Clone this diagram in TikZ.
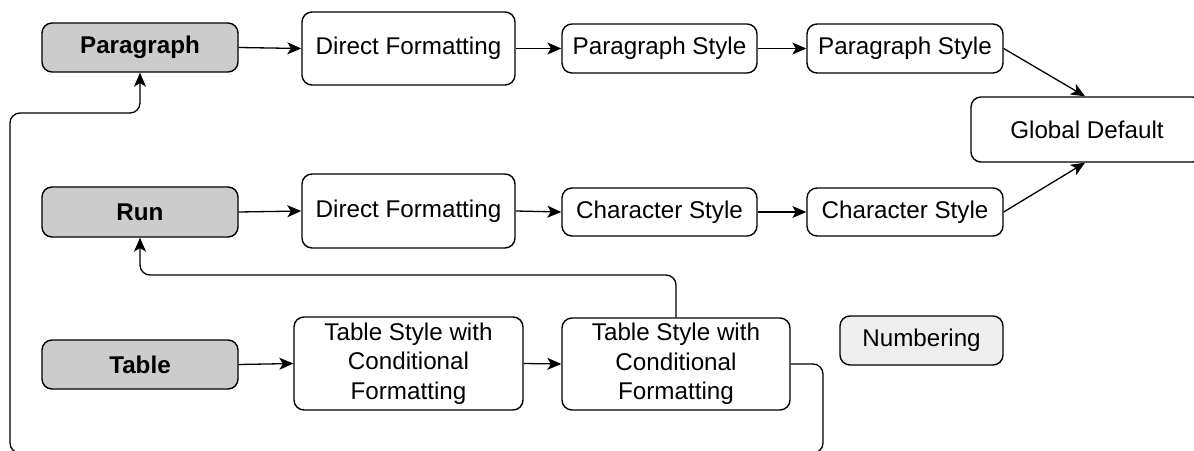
\documentclass[tikz,border=0pt]{standalone}
\usepackage{fontspec}
\setmainfont{Liberation Sans}
\usetikzlibrary{arrows.meta}
\definecolor{boxgray}{HTML}{CCCCCC}
\definecolor{lightgray2}{HTML}{EEEEEE}
\tikzset{
  box/.style={draw=black, line width=0.7pt, rounded corners=5pt, fill=white,
    align=center, inner sep=0pt, font=\fontsize{12.1}{14.8}\selectfont},
  entry/.style={box, fill=boxgray, font=\fontsize{12.1}{14.8}\selectfont\bfseries},
  numbox/.style={box, fill=lightgray2},
  arr/.style={line width=0.65pt, -{Stealth[length=7pt,width=6pt,inset=1.8pt]}},
  wire/.style={line width=0.65pt, rounded corners=5pt}
}
\begin{document}
\begin{tikzpicture}[x=0.5pt,y=-0.5pt]
\useasboundingbox (0,0) rectangle (1194,450);
% row 1
\node[entry, minimum width=98pt, minimum height=24.5pt] (par) at (140,47.5) {Paragraph};
\node[box, minimum width=106.5pt, minimum height=36.5pt] (df1) at (408.5,48.5) {Direct Formatting};
\node[box, minimum width=97.5pt, minimum height=24.5pt] (ps1) at (659.5,48.5) {Paragraph Style};
\node[box, minimum width=98pt, minimum height=24.5pt] (ps2) at (905,48.5) {Paragraph Style};
\node[box, minimum width=116pt, minimum height=32.5pt] (gd) at (1087,129.5) {Global Default};
% row 2
\node[entry, minimum width=98pt, minimum height=25pt] (run) at (140,212) {Run};
\node[box, minimum width=106.5pt, minimum height=37pt] (df2) at (408.5,211) {Direct Formatting};
\node[box, minimum width=97.5pt, minimum height=24pt] (cs1) at (659.5,212) {Character Style};
\node[box, minimum width=98pt, minimum height=24pt] (cs2) at (905,212) {Character Style};
% row 3
\node[entry, minimum width=98pt, minimum height=24.5pt] (tab) at (140,364.5) {Table};
\node[box, minimum width=114.5pt, minimum height=46.5pt] (ts1) at (408.5,363.5) {Table Style with\\Conditional\\Formatting};
\node[box, minimum width=114pt, minimum height=46pt] (ts2) at (676,364) {Table Style with\\Conditional\\Formatting};
\node[numbox, minimum width=81.5pt, minimum height=24.5pt] (num) at (921.5,340.5) {Numbering};
% connectors
\draw[arr] (par.east) -- (df1.west);
\draw[arr] (df1.east) -- (ps1.west);
\draw[arr] (ps1.east) -- (ps2.west);
\draw[arr] (ps2.east) -- ([xshift=-1pt]gd.north);
\draw[arr] (run.east) -- (df2.west);
\draw[arr] (df2.east) -- (cs1.west);
\draw[arr] (cs1.east) -- (cs2.west);
\draw[arr] (cs2.east) -- ([xshift=-1pt]gd.south);
\draw[arr] (tab.east) -- (ts1.west);
\draw[arr] (ts1.east) -- (ts2.west);
\coordinate (k1) at (676,275);
\coordinate (k2) at (140,275);
\draw[arr, wire] (ts2.north) -- (k1) -- (k2) -- (run.south);
\coordinate (b1) at (823,364);
\coordinate (b2) at (823,453);
\coordinate (b3) at (10,453);
\coordinate (b4) at (10,113);
\coordinate (b5) at (140,113);
\draw[arr, wire] (ts2.east) -- (b1) -- (b2) -- (b3) -- (b4) -- (b5) -- (par.south);
\end{tikzpicture}
\end{document}
